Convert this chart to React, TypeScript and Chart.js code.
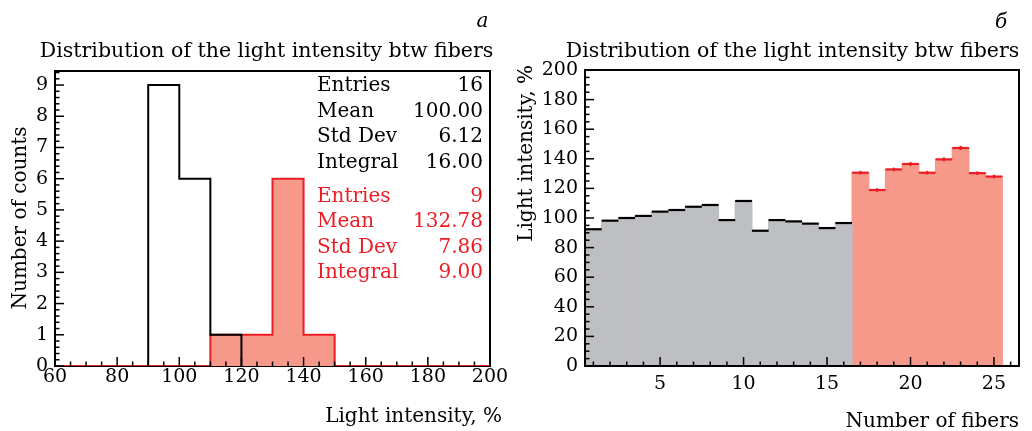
import React, { useEffect, useRef } from "react";
import { Chart, registerables } from "chart.js";
Chart.register(...registerables);

const SERIF = "'DejaVu Serif', 'Liberation Serif', serif";
const RED = "#EC1C24";
const SALMON = "#F7998A";
const GRAY = "#BEBFC3";

// ---------- Panel а : histogram of light intensity ----------
const binEdges = [60, 70, 80, 90, 100, 110, 120, 130, 140, 150, 160, 170, 180, 190, 200];
const blackCounts = [0, 0, 0, 9, 6, 1, 0, 0, 0, 0, 0, 0, 0, 0];
const redCounts = [0, 0, 0, 0, 0, 1, 1, 6, 1, 0, 0, 0, 0, 0];
const statLabels = ["Entries", "Mean", "Std Dev", "Integral"];
const blackStatValues = ["16", "100.00", "6.12", "16.00"];
const redStatValues = ["9", "132.78", "7.86", "9.00"];
const titleText = "Distribution of the light intensity btw fibers";

// ---------- Panel б : light intensity per fiber ----------
const grayFibers = [1, 2, 3, 4, 5, 6, 7, 8, 9, 10, 11, 12, 13, 14, 15, 16];
const grayValues = [92.4, 98.2, 100.0, 101.4, 104.3, 105.4, 107.6, 108.8, 98.6, 111.5, 91.4, 98.6, 97.7, 96.2, 93.2, 96.6];
const redFibers = [17, 18, 19, 20, 21, 22, 23, 24, 25];
const redValues = [130.6, 118.9, 132.8, 136.5, 130.6, 139.6, 147.3, 130.3, 128.0];
const redErrors = [1.2, 1.2, 1.2, 1.3, 1.2, 1.3, 1.4, 1.2, 1.2];
const binWidth = 1;

function stepPoints(edges: number[], counts: number[]) {
  const pts: { x: number; y: number }[] = [];
  for (let i = 0; i < counts.length; i++) pts.push({ x: edges[i], y: counts[i] });
  pts.push({ x: edges[edges.length - 1], y: 0 });
  return pts;
}
function trimmedStepPoints(edges: number[], counts: number[]) {
  const nz = counts.map((c, i) => (c > 0 ? i : -1)).filter((i) => i >= 0);
  const f = nz[0];
  const l = nz[nz.length - 1];
  const pts: { x: number; y: number }[] = [{ x: edges[f], y: 0 }];
  for (let i = f; i <= l; i++) pts.push({ x: edges[i], y: counts[i] });
  pts.push({ x: edges[l + 1], y: 0 });
  return pts;
}

type AxisCfg = {
  xStart: number; xEnd: number; xMinor: number; xMajor: number;
  yStart: number; yEnd: number; yMinor: number; yMajor: number;
  frameBefore: boolean;
  drawText: (ctx: CanvasRenderingContext2D, chart: any) => void;
};

function isMajor(v: number, m: number) {
  return Math.abs(v / m - Math.round(v / m)) < 1e-6;
}

function drawFrame(chart: any) {
  const { ctx, chartArea } = chart;
  const { left, right, top, bottom } = chartArea;
  ctx.save();
  ctx.strokeStyle = "#000";
  ctx.lineWidth = 2;
  ctx.strokeRect(left, top, right - left, bottom - top);
  ctx.restore();
}

function drawTicks(chart: any, cfg: AxisCfg) {
  const { ctx, chartArea } = chart;
  const { left, bottom } = chartArea;
  const xs = chart.scales.x;
  const ys = chart.scales.y;
  ctx.save();
  ctx.strokeStyle = "#000";
  ctx.lineWidth = 1.5;
  const nx = Math.floor((cfg.xEnd - cfg.xStart) / cfg.xMinor + 1e-6);
  for (let i = 0; i <= nx; i++) {
    const v = cfg.xStart + i * cfg.xMinor;
    const len = isMajor(v, cfg.xMajor) ? 9 : 4.5;
    const px = xs.getPixelForValue(v);
    ctx.beginPath();
    ctx.moveTo(px, bottom);
    ctx.lineTo(px, bottom - len);
    ctx.stroke();
  }
  const ny = Math.floor((cfg.yEnd - cfg.yStart) / cfg.yMinor + 1e-6);
  for (let i = 0; i <= ny; i++) {
    const v = cfg.yStart + i * cfg.yMinor;
    const len = isMajor(v, cfg.yMajor) ? 9 : 4.5;
    const py = ys.getPixelForValue(v);
    ctx.beginPath();
    ctx.moveTo(left, py);
    ctx.lineTo(left + len, py);
    ctx.stroke();
  }
  ctx.restore();
}

function rootPlugin(cfg: AxisCfg) {
  return {
    id: "rootStyle",
    beforeDatasetsDraw(chart: any) {
      if (cfg.frameBefore) drawFrame(chart);
    },
    afterDatasetsDraw(chart: any) {
      if (!cfg.frameBefore) drawFrame(chart);
      drawTicks(chart, cfg);
    },
    afterDraw(chart: any) {
      cfg.drawText(chart.ctx, chart);
    },
  };
}

// top edges of each bin and error bars, placed through the chart scales
const binTopsPlugin = {
  id: "binTops",
  afterDatasetsDraw(chart: any) {
    const { ctx } = chart;
    const xs = chart.scales.x;
    const ys = chart.scales.y;
    ctx.save();
    ctx.lineWidth = 2.2;
    ctx.strokeStyle = "#000";
    grayFibers.forEach((f, i) => {
      const py = ys.getPixelForValue(grayValues[i]);
      ctx.beginPath();
      ctx.moveTo(xs.getPixelForValue(f - binWidth / 2), py);
      ctx.lineTo(xs.getPixelForValue(f + binWidth / 2), py);
      ctx.stroke();
    });
    ctx.strokeStyle = RED;
    redFibers.forEach((f, i) => {
      const py = ys.getPixelForValue(redValues[i]);
      ctx.beginPath();
      ctx.moveTo(xs.getPixelForValue(f - binWidth / 2), py);
      ctx.lineTo(xs.getPixelForValue(f + binWidth / 2), py);
      ctx.stroke();
      const px = xs.getPixelForValue(f);
      ctx.beginPath();
      ctx.moveTo(px, ys.getPixelForValue(redValues[i] - redErrors[i]));
      ctx.lineTo(px, ys.getPixelForValue(redValues[i] + redErrors[i]));
      ctx.stroke();
    });
    ctx.restore();
  },
};

function tickOpts(stepSize: number, padding: number) {
  return {
    stepSize,
    padding,
    color: "#000",
    autoSkip: false,
    maxRotation: 0,
    includeBounds: false,
    font: { family: SERIF, size: 19, lineHeight: 1.2 },
  };
}

function ChartA() {
  const ref = useRef<HTMLCanvasElement>(null);
  useEffect(() => {
    if (!ref.current) return;
    const cfg: AxisCfg = {
      xStart: 60, xEnd: 200, xMinor: 5, xMajor: 20,
      yStart: 0, yEnd: 9.45, yMinor: 0.2, yMajor: 1,
      frameBefore: true,
      drawText: (ctx) => {
        ctx.save();
        ctx.fillStyle = "#000";
        ctx.textBaseline = "alphabetic";
        ctx.font = `20.5px ${SERIF}`;
        ctx.textAlign = "center";
        ctx.fillText(titleText, 266.5, 57);
        ctx.font = `italic 20px ${SERIF}`;
        ctx.fillText("а", 482.5, 27);
        ctx.font = `20px ${SERIF}`;
        ctx.textAlign = "right";
        ctx.fillText("Light intensity, %", 502, 422);
        ctx.save();
        ctx.translate(21, 218);
        ctx.rotate(-Math.PI / 2);
        ctx.textAlign = "center";
        ctx.textBaseline = "middle";
        ctx.fillText("Number of counts", 0, 0);
        ctx.restore();
        ctx.textBaseline = "middle";
        statLabels.forEach((lab, i) => {
          const y = 86 + i * 25.6;
          ctx.fillStyle = "#000";
          ctx.textAlign = "left";
          ctx.fillText(lab, 317, y);
          ctx.textAlign = "right";
          ctx.fillText(blackStatValues[i], 483, y);
        });
        statLabels.forEach((lab, i) => {
          const y = 196.7 + i * 25.5;
          ctx.fillStyle = RED;
          ctx.textAlign = "left";
          ctx.fillText(lab, 317, y);
          ctx.textAlign = "right";
          ctx.fillText(redStatValues[i], 483, y);
        });
        ctx.restore();
      },
    };
    const chart = new Chart(ref.current, {
      type: "line",
      data: {
        datasets: [
          {
            data: trimmedStepPoints(binEdges, blackCounts),
            borderColor: "#000",
            borderWidth: 2,
            stepped: true,
            fill: false,
            pointRadius: 0,
          },
          {
            data: stepPoints(binEdges, redCounts),
            borderColor: RED,
            backgroundColor: SALMON,
            borderWidth: 2,
            stepped: true,
            fill: "origin",
            pointRadius: 0,
          },
        ],
      },
      options: {
        responsive: false,
        animation: false,
        layout: { padding: { left: 0, right: 26, top: 71, bottom: 0 } },
        plugins: { legend: { display: false }, tooltip: { enabled: false }, title: { display: false } },
        scales: {
          x: {
            type: "linear",
            min: 60,
            max: 200,
            grid: { display: false, drawTicks: false },
            border: { display: false },
            ticks: tickOpts(20, 0),
            afterFit: (s: any) => { s.height = 65; },
          },
          y: {
            type: "linear",
            min: 0,
            max: 9.45,
            grid: { display: false, drawTicks: false },
            border: { display: false },
            ticks: tickOpts(1, 7),
            afterFit: (s: any) => { s.width = 55; },
          },
        },
      } as any,
      plugins: [rootPlugin(cfg)],
    });
    return () => chart.destroy();
  }, []);
  return <canvas ref={ref} width={516} height={431} style={{ display: "block" }} />;
}

function ChartB() {
  const ref = useRef<HTMLCanvasElement>(null);
  useEffect(() => {
    if (!ref.current) return;
    const cfg: AxisCfg = {
      xStart: 1, xEnd: 26, xMinor: 1, xMajor: 5,
      yStart: 0, yEnd: 200, yMinor: 5, yMajor: 20,
      frameBefore: false,
      drawText: (ctx) => {
        ctx.save();
        ctx.fillStyle = "#000";
        ctx.textBaseline = "alphabetic";
        ctx.font = `20.5px ${SERIF}`;
        ctx.textAlign = "center";
        ctx.fillText(titleText, 276.5, 57);
        ctx.font = `italic 20px ${SERIF}`;
        ctx.fillText("б", 485, 28);
        ctx.font = `20px ${SERIF}`;
        ctx.textAlign = "right";
        ctx.fillText("Number of fibers", 503, 427);
        ctx.save();
        ctx.translate(11, 65);
        ctx.rotate(-Math.PI / 2);
        ctx.textAlign = "right";
        ctx.textBaseline = "middle";
        ctx.fillText("Light intensity, %", 0, 0);
        ctx.restore();
        ctx.restore();
      },
    };
    const barStyle = {
      borderWidth: 0,
      grouped: false,
      barPercentage: 1,
      categoryPercentage: 1,
      inflateAmount: 0.6,
    };
    const chart = new Chart(ref.current, {
      type: "bar",
      data: {
        datasets: [
          {
            data: grayFibers.map((f, i) => ({ x: f, y: grayValues[i] })),
            backgroundColor: GRAY,
            ...barStyle,
          },
          {
            data: redFibers.map((f, i) => ({ x: f, y: redValues[i] })),
            backgroundColor: SALMON,
            ...barStyle,
          },
        ],
      },
      options: {
        responsive: false,
        animation: false,
        layout: { padding: { left: 0, right: 13, top: 70, bottom: 0 } },
        plugins: { legend: { display: false }, tooltip: { enabled: false }, title: { display: false } },
        scales: {
          x: {
            type: "linear",
            min: 0.5,
            max: 26.5,
            offset: false,
            grid: { display: false, drawTicks: false },
            border: { display: false },
            ticks: tickOpts(5, 7),
            afterFit: (s: any) => { s.height = 65; },
          },
          y: {
            type: "linear",
            min: 0,
            max: 200,
            grid: { display: false, drawTicks: false },
            border: { display: false },
            ticks: tickOpts(20, 7),
            afterFit: (s: any) => { s.width = 69; },
          },
        },
      } as any,
      plugins: [binTopsPlugin, rootPlugin(cfg)],
    });
    return () => chart.destroy();
  }, []);
  return <canvas ref={ref} width={516} height={431} style={{ display: "block" }} />;
}

export default function App() {
  return (
    <div style={{ position: "fixed", left: 0, top: 0, width: 1032, height: 431, background: "#fff", display: "flex" }}>
      <div style={{ width: 516, height: 431 }}>
        <ChartA />
      </div>
      <div style={{ width: 516, height: 431 }}>
        <ChartB />
      </div>
    </div>
  );
}
